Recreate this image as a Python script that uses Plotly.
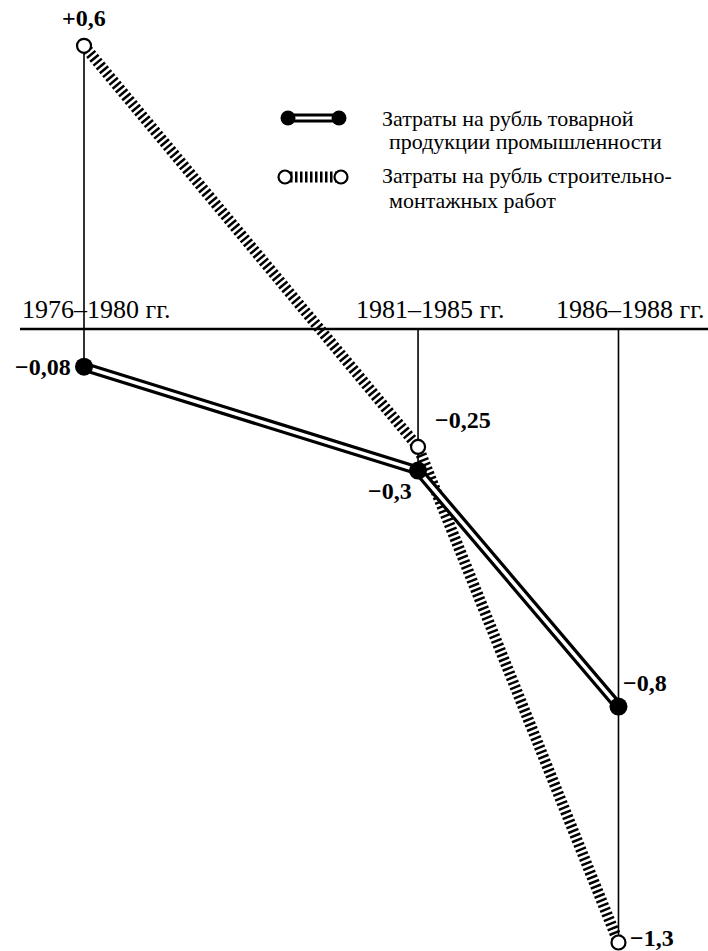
import plotly.graph_objects as go

# ---- data ----
periods = ["1976–1980 гг.", "1981–1985 гг.", "1986–1988 гг."]
period_x = [0, 1, 1.6]
industry = [-0.08, -0.3, -0.8]          # затраты на рубль товарной продукции промышленности
construction = [0.6, -0.25, -1.3]       # затраты на рубль строительно-монтажных работ
legend_lines = [
    ["Затраты на рубль товарной", "продукции промышленности"],
    ["Затраты на рубль строительно-", "монтажных работ"],
]

SERIF = "Liberation Serif, Times New Roman, serif"
W, H = 708, 951


def fmt(v):
    s = f"{v:+g}".replace(".", ",")
    return s.replace("-", "−")


fig = go.Figure()

# vertical drop lines through each period
for i, x in enumerate(period_x):
    vals = [industry[i], construction[i], 0]
    fig.add_trace(go.Scatter(x=[x, x], y=[max(vals), min(vals)], mode="lines",
                             line=dict(color="black", width=1.6), hoverinfo="skip",
                             showlegend=False))

# hatched line (construction)
fig.add_trace(go.Scatter(x=period_x, y=construction, mode="lines",
                         line=dict(color="black", width=11, dash="2.5px,2.5px"),
                         showlegend=False, hoverinfo="skip"))
# double line (industry)
fig.add_trace(go.Scatter(x=period_x, y=industry, mode="lines",
                         line=dict(color="black", width=10), showlegend=False, hoverinfo="skip"))
fig.add_trace(go.Scatter(x=period_x, y=industry, mode="lines",
                         line=dict(color="white", width=3.5), showlegend=False, hoverinfo="skip"))
# markers
fig.add_trace(go.Scatter(x=period_x, y=construction, mode="markers",
                         marker=dict(size=14, color="white", line=dict(color="black", width=2.2)),
                         showlegend=False))
fig.add_trace(go.Scatter(x=period_x, y=industry, mode="markers",
                         marker=dict(size=18, color="black"), showlegend=False))

# ---- legend samples on overlay pixel axes ----
fig.add_trace(go.Scatter(x=[293, 336], y=[118, 118], mode="lines", xaxis="x2", yaxis="y2",
                         line=dict(color="black", width=9), showlegend=False, hoverinfo="skip"))
fig.add_trace(go.Scatter(x=[293, 336], y=[118, 118], mode="lines", xaxis="x2", yaxis="y2",
                         line=dict(color="white", width=3), showlegend=False, hoverinfo="skip"))
fig.add_trace(go.Scatter(x=[288, 339], y=[118, 118], mode="markers", xaxis="x2", yaxis="y2",
                         marker=dict(size=15, color="black"), showlegend=False, hoverinfo="skip"))
fig.add_trace(go.Scatter(x=[290, 336], y=[177, 177], mode="lines", xaxis="x2", yaxis="y2",
                         line=dict(color="black", width=11, dash="2.5px,2.5px"),
                         showlegend=False, hoverinfo="skip"))
fig.add_trace(go.Scatter(x=[285, 341], y=[177, 177], mode="markers", xaxis="x2", yaxis="y2",
                         marker=dict(size=13, color="white", line=dict(color="black", width=2.2)),
                         showlegend=False, hoverinfo="skip"))

annotations = []
# legend text
leg_y = [(118, 142), (176, 200)]
for lines, (y1, y2) in zip(legend_lines, leg_y):
    annotations.append(dict(x=381 / W, y=1 - y1 / H, xref="paper", yref="paper", text=lines[0],
                            showarrow=False, xanchor="left", yanchor="middle", borderpad=0,
                            font=dict(family=SERIF, size=22, color="black")))
    annotations.append(dict(x=388 / W, y=1 - y2 / H, xref="paper", yref="paper", text=lines[1],
                            showarrow=False, xanchor="left", yanchor="middle", borderpad=0,
                            font=dict(family=SERIF, size=22, color="black")))

# period labels above axis
for x, p in zip(period_x, periods):
    annotations.append(dict(x=x, y=0, text=p, showarrow=False, xanchor="center", yanchor="bottom",
                            xshift=12, yshift=3, font=dict(family=SERIF, size=26, color="black")))

# value labels
ind_pos = [("right", "middle", -12, 0), ("right", "middle", -5, -20), ("left", "middle", 4, 24)]
con_pos = [("center", "middle", 0, 28), ("left", "middle", 16, 27), ("left", "middle", 11, 5)]
for series, poss in ((industry, ind_pos), (construction, con_pos)):
    for x, v, (xa, ya, xs, ys) in zip(period_x, series, poss):
        annotations.append(dict(x=x, y=v, text=f"<b>{fmt(v)}</b>", showarrow=False,
                                xanchor=xa, yanchor=ya, xshift=xs, yshift=ys, borderpad=0,
                                font=dict(family=SERIF, size=24, color="black")))

fig.update_layout(
    width=W, height=H,
    margin=dict(l=0, r=0, t=0, b=0),
    paper_bgcolor="white", plot_bgcolor="white",
    xaxis=dict(range=[-0.2515, 1.868], visible=False, fixedrange=True),
    yaxis=dict(range=[-1.318, 0.697], visible=False, fixedrange=True),
    xaxis2=dict(range=[0, W], overlaying="x", visible=False, fixedrange=True),
    yaxis2=dict(range=[H, 0], overlaying="y", visible=False, fixedrange=True),
    shapes=[dict(type="line", xref="paper", yref="y", x0=20 / W, x1=1, y0=0, y1=0,
                 line=dict(color="black", width=2.5), layer="below")],
    annotations=annotations,
    showlegend=False,
)

fig.write_html("out.html", config={"displayModeBar": False},
               post_script="document.body.style.margin='0';document.body.style.overflow='hidden';")
